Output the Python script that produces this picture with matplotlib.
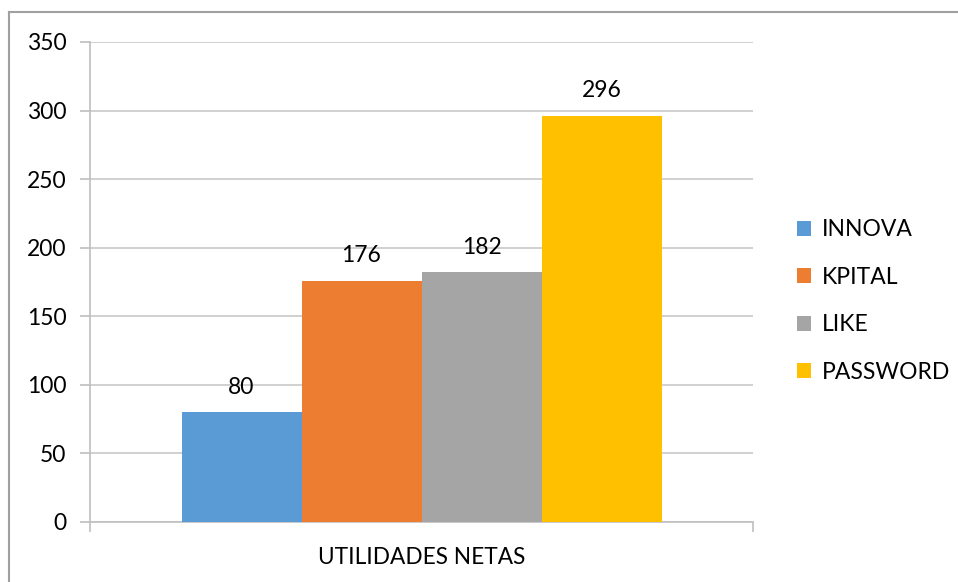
import matplotlib
matplotlib.use("Agg")
import matplotlib.pyplot as plt
from matplotlib.lines import Line2D
from matplotlib.patches import Patch

categories = ["UTILIDADES NETAS"]
series_names = ["INNOVA", "KPITAL", "LIKE", "PASSWORD"]
values = [80, 176, 182, 296]
colors = ["#5B9BD5", "#ED7D31", "#A5A5A5", "#FFC000"]
yticks = [0, 50, 100, 150, 200, 250, 300, 350]

plt.rcParams['font.family'] = ['Lato', 'DejaVu Sans']
FS = 16.5
W, H = 958, 582
fig = plt.figure(figsize=(W/100, H/100), dpi=100)
ax = fig.add_axes([90/W, 1-522/H, (753-90)/W, (522-42)/H])

group_w = 480/663
bw = group_w/len(values)
start = -group_w/2
for i, (n, v, c) in enumerate(zip(series_names, values, colors)):
    x = start + bw*(i+0.5)
    ax.bar(x, v, width=bw, color=c, label=n, zorder=3)
    ax.annotate(str(v), (x, v), xytext=(0, 10.5), textcoords="offset points",
                ha="center", va="bottom", fontsize=FS, color="#000000")

ax.set_xlim(-0.5, 0.5)
ax.set_ylim(0, 350)
ax.set_yticks(yticks)
ax.set_yticklabels([str(t) for t in yticks], fontsize=FS)
ax.grid(axis="y", color="#C8C8C8", linewidth=1.2, zorder=0)
ax.set_xticks([-0.5, 0.5])
ax.set_xticklabels(["", ""])
ax.tick_params(axis="x", length=7, color="#BFBFBF", width=1.2)
ax.tick_params(axis="y", length=7, color="#BFBFBF", width=1.2, pad=10)
for s in ["top", "right"]:
    ax.spines[s].set_visible(False)
for s in ["left", "bottom"]:
    ax.spines[s].set_color("#BFBFBF")
    ax.spines[s].set_linewidth(1.2)
ax.text(0, -0.075, categories[0], transform=ax.get_xaxis_transform(),
        ha="center", va="center", fontsize=16.3)

handles = [Patch(facecolor=c, edgecolor="none", label=n) for n, c in zip(series_names, colors)]
fig.legend(handles=handles, loc="center left", bbox_to_anchor=(776/W, 1-301/H),
           frameon=False, fontsize=FS, handlelength=0.62, handleheight=0.62,
           handletextpad=0.5, labelspacing=1.15)

# outer chart border (only top and left visible)
fig.add_artist(Line2D([9/W, 1], [1-12/H, 1-12/H], transform=fig.transFigure, color="#A0A0A0", lw=1.5))
fig.add_artist(Line2D([9/W, 9/W], [0, 1-12/H], transform=fig.transFigure, color="#A0A0A0", lw=1.5))

fig.savefig("out.png", dpi=100)
